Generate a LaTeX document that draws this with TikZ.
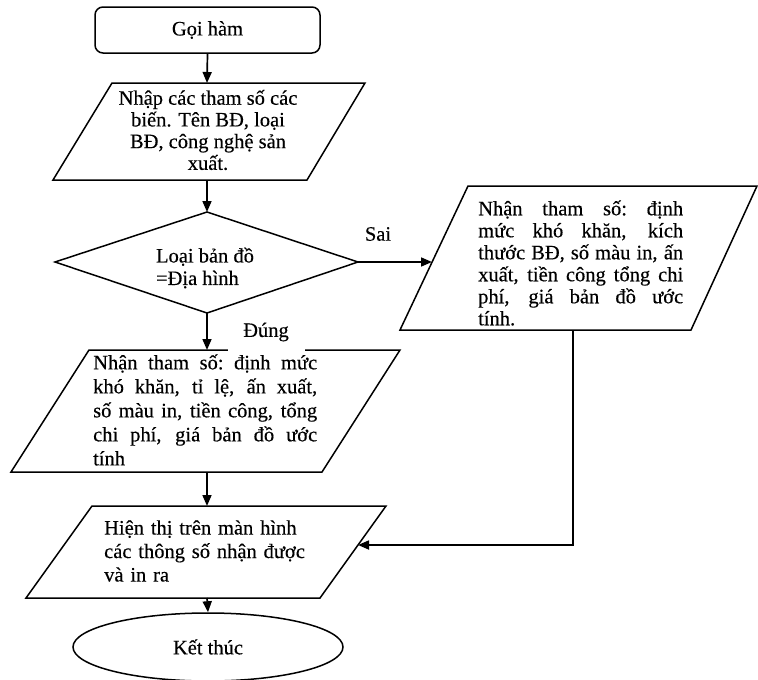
\documentclass[tikz,border=0pt]{standalone}
\usepackage{fontspec}
\setmainfont[FakeBold=0.3]{Liberation Serif}
\usetikzlibrary{arrows.meta,shapes.geometric}
\newcommand\jl[2]{\leavevmode{\spaceskip=0.25em plus 1fil\xspaceskip=0.25em plus 1fil\hbox to #1{#2}}}
\begin{document}
\begin{tikzpicture}[x=1pt,y=-1pt,
  outline/.style={line width=1.5pt, line join=miter},
  arr/.style={line width=1.7pt, -{Triangle[length=11pt,width=9pt]}},
  txt/.style={font=\fontsize{20.5}{22.5}\selectfont, inner sep=0pt},
  ]
\useasboundingbox (0,0) rectangle (758,680);
\fill[white] (0,0) rectangle (758,680);

% start
\node[outline, draw, rounded corners=8pt, minimum width=225pt, minimum height=46pt, txt] (start) at (207.5,30) {Gọi hàm};

% input parallelogram
\coordinate (p1a) at (112,83);
\coordinate (p1b) at (365,83);
\coordinate (p1c) at (307,180);
\coordinate (p1d) at (53,180);
\coordinate (p1n) at (207,83);
\coordinate (p1s) at (207,180);
\draw[outline] (p1a) -- (p1b) -- (p1c) -- (p1d) -- cycle;
\node[txt, align=center, font=\fontsize{20.5}{21.7}\selectfont] (t1) at (208,130)
  {Nhập các tham số các\\biến. Tên BĐ, loại\\BĐ, công nghệ sản\\xuất.};

% decision
\coordinate (dn) at (207,212);
\coordinate (de) at (358,262);
\coordinate (ds) at (207,313);
\coordinate (dw) at (55,262);
\draw[outline] (dn) -- (de) -- (ds) -- (dw) -- cycle;
\node[txt, align=left] (t2) at (205,268) {Loại bản đồ\\=Địa hình};

% right parallelogram
\coordinate (p3a) at (468,186);
\coordinate (p3b) at (757,186);
\coordinate (p3c) at (691,330);
\coordinate (p3d) at (400,330);
\coordinate (p3w) at (432,262);
\coordinate (p3s) at (573,330);
\draw[outline] (p3a) -- (p3b) -- (p3c) -- (p3d) -- cycle;
\node[txt, anchor=west, text width=205pt, align=left, font=\fontsize{20.5}{22}\selectfont] (t3) at (478,263)
  {\jl{205pt}{Nhận tham số: định}\\
   \jl{205pt}{mức khó khăn, kích}\\
   \jl{205pt}{thước BĐ, số màu in, ấn}\\
   \jl{205pt}{xuất, tiền công tổng chi}\\
   \jl{205pt}{phí, giá bản đồ ước}\\
   tính.};

% left parallelogram
\coordinate (p2a) at (89,350);
\coordinate (p2b) at (400,350);
\coordinate (p2c) at (322,472);
\coordinate (p2d) at (11,472);
\coordinate (p2n) at (207,350);
\coordinate (p2s) at (207,472);
\draw[outline] (p2a) -- (p2b) -- (p2c) -- (p2d) -- cycle;
\node[txt, anchor=west, text width=224pt, align=left, font=\fontsize{20.5}{24}\selectfont] (t4) at (93,410)
  {\jl{224pt}{Nhận tham số: định mức}\\
   \jl{224pt}{khó khăn, tỉ lệ, ấn xuất,}\\
   \jl{224pt}{số màu in, tiền công, tổng}\\
   \jl{224pt}{chi phí, giá bản đồ ước}\\
   tính};

% output parallelogram
\coordinate (p4a) at (92,506);
\coordinate (p4b) at (386,506);
\coordinate (p4c) at (320,598);
\coordinate (p4d) at (26,598);
\coordinate (p4n) at (207,506);
\coordinate (p4s) at (207,598);
\coordinate (p4e) at (358,545);
\draw[outline] (p4a) -- (p4b) -- (p4c) -- (p4d) -- cycle;
\node[txt, anchor=west, text width=210pt, align=left, font=\fontsize{20.5}{23.5}\selectfont] (t5) at (104,551)
  {Hiện thị trên màn hình\\các thông số nhận được\\và in ra};

% end
\node[outline, draw, ellipse, minimum width=270pt, minimum height=68pt, txt] (end) at (208,647) {Kết thúc};

% connectors
\draw[arr] (start.south) -- (p1n);
\draw[arr] (p1s) -- (dn);
\draw[arr] (ds) -- (p2n);
\draw[arr] (de) -- (p3w);
\draw[arr] (p2s) -- (p4n);
\draw[arr] (p4s) -- (end.north);
\draw[arr] (p3s) |- (p4e);

% labels
\node[txt] (sai) at (378,234) {Sai};
\node[txt, fill=white, minimum width=77pt, minimum height=40pt] (dung) at (266,332) {Đúng};
\end{tikzpicture}
\end{document}
